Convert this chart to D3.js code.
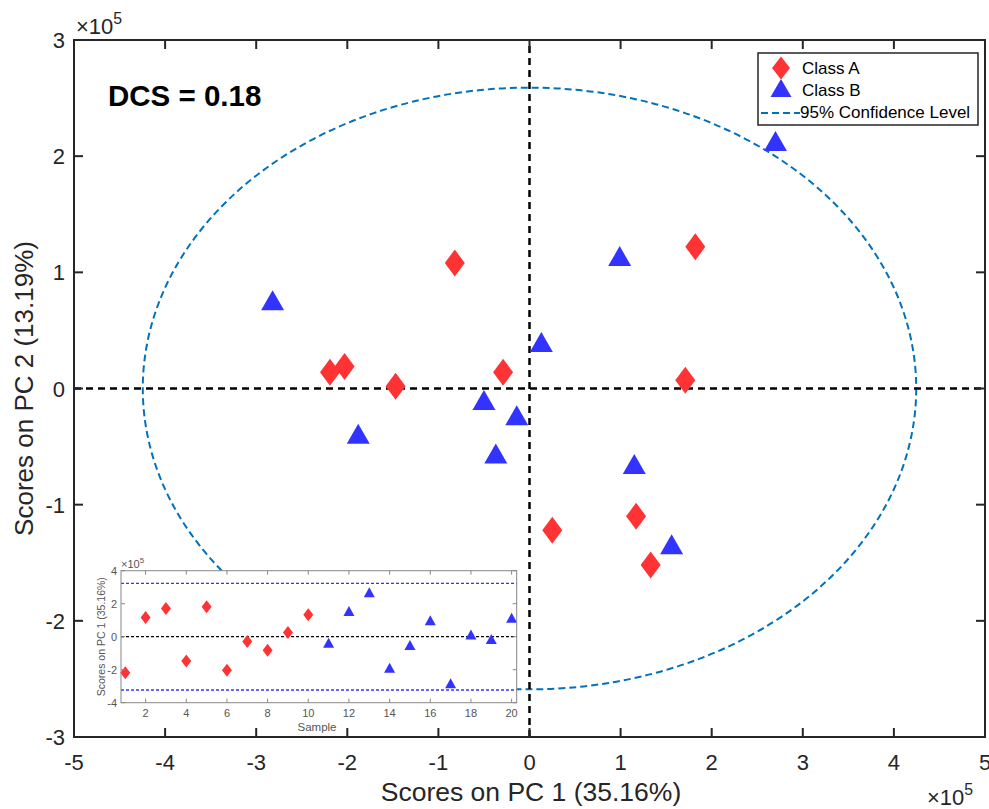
<!DOCTYPE html>
<html>
<head>
<meta charset="utf-8">
<script src="https://cdn.jsdelivr.net/npm/d3@7"></script>
<style>
  body { margin: 0; background: #fff; }
  text { font-family: "Liberation Sans", Arial, sans-serif; }
</style>
</head>
<body>
<div id="chart"></div>
<script>
// ---------------- data (scores in units of 1e5) ----------------
const classA_pc1 = [-2.19, 1.17, 1.71, -1.47, 1.82, -2.03, -0.29, -0.82, 0.25, 1.33];
const classA_pc2 = [0.14, -1.10, 0.07, 0.02, 1.22, 0.19, 0.14, 1.08, -1.22, -1.52];
const classB_pc1 = [-0.37, 1.56, 2.70, -1.88, -0.50, 0.99, -2.82, 0.13, -0.14, 1.15];
const classB_pc2 = [-0.56, -1.34, 2.13, -0.39, -0.10, 1.14, 0.76, 0.40, -0.23, -0.65];
const samplesA = [1, 2, 3, 4, 5, 6, 7, 8, 9, 10];
const samplesB = [11, 12, 13, 14, 15, 16, 17, 18, 19, 20];

const ellipseRadii = [4.245, 2.59];   // 95% confidence ellipse half-axes
const pc1Limit = 3.23;                // inset 95% limit on PC1
const xTicks = [-5, -4, -3, -2, -1, 0, 1, 2, 3, 4, 5];
const yTicks = [-3, -2, -1, 0, 1, 2, 3];
const insetXTicks = [2, 4, 6, 8, 10, 12, 14, 16, 18, 20];
const insetYTicks = [-4, -2, 0, 2, 4];
const legendLabels = ["Class A", "Class B", "95% Confidence Level"];
const dcsLabel = "DCS = 0.18";

const red = "#ff3333", blue = "#3333ff", ciBlue = "#0072bd", axisCol = "#262626";

const pointsA = samplesA.map((s, i) => ({s, x: classA_pc1[i], y: classA_pc2[i]}));
const pointsB = samplesB.map((s, i) => ({s, x: classB_pc1[i], y: classB_pc2[i]}));

const svg = d3.select("#chart").append("svg")
    .attr("width", 989).attr("height", 809);

// ---------------- main axes ----------------
const xScale = d3.scaleLinear().domain([-5, 5]).range([74, 985]);
const yScale = d3.scaleLinear().domain([-3, 3]).range([737, 40]);

// diamond / triangle path builders
function diamond(w, h) { return `M0,${-h/2}L${w/2},0L0,${h/2}L${-w/2},0Z`; }
function triangle(w, h) { return `M0,${-h/2}L${w/2},${h/2}L${-w/2},${h/2}Z`; }

// confidence ellipse
svg.append("ellipse")
    .attr("cx", xScale(0)).attr("cy", yScale(0))
    .attr("rx", xScale(ellipseRadii[0]) - xScale(0))
    .attr("ry", yScale(0) - yScale(ellipseRadii[1]))
    .attr("fill", "none")
    .attr("stroke", ciBlue)
    .attr("stroke-width", 2)
    .attr("stroke-dasharray", "7,4");

// zero lines
svg.append("line")
    .attr("x1", xScale(-5)).attr("x2", xScale(5))
    .attr("y1", yScale(0)).attr("y2", yScale(0))
    .attr("stroke", "#000").attr("stroke-width", 2.5).attr("stroke-dasharray", "7,5");
svg.append("line")
    .attr("x1", xScale(0)).attr("x2", xScale(0))
    .attr("y1", yScale(-3)).attr("y2", yScale(3))
    .attr("stroke", "#000").attr("stroke-width", 2.5).attr("stroke-dasharray", "7,5");

// box + inward ticks on all four sides
const tickLen = 9;
const axes = svg.append("g").attr("stroke", axisCol).attr("stroke-width", 2);
axes.append("rect")
    .attr("x", xScale(-5)).attr("y", yScale(3))
    .attr("width", xScale(5) - xScale(-5)).attr("height", yScale(-3) - yScale(3))
    .attr("fill", "none");
xTicks.forEach(t => {
  axes.append("line").attr("x1", xScale(t)).attr("x2", xScale(t))
      .attr("y1", yScale(-3)).attr("y2", yScale(-3) - tickLen);
  axes.append("line").attr("x1", xScale(t)).attr("x2", xScale(t))
      .attr("y1", yScale(3)).attr("y2", yScale(3) + tickLen);
});
yTicks.forEach(t => {
  axes.append("line").attr("y1", yScale(t)).attr("y2", yScale(t))
      .attr("x1", xScale(-5)).attr("x2", xScale(-5) + tickLen);
  axes.append("line").attr("y1", yScale(t)).attr("y2", yScale(t))
      .attr("x1", xScale(5)).attr("x2", xScale(5) - tickLen);
});

// tick labels
svg.append("g").selectAll("text").data(xTicks).join("text")
    .attr("x", d => xScale(d)).attr("y", 770)
    .attr("text-anchor", "middle").attr("font-size", 22).attr("fill", axisCol)
    .text(d => d);
svg.append("g").selectAll("text").data(yTicks).join("text")
    .attr("x", 65).attr("y", d => yScale(d) + 8)
    .attr("text-anchor", "end").attr("font-size", 22).attr("fill", axisCol)
    .text(d => d);

// exponent labels
function exponent(x, y, size) {
  const t = svg.append("text").attr("x", x).attr("y", y)
      .attr("font-size", size).attr("fill", axisCol);
  t.append("tspan").text("\u00d710");
  t.append("tspan").attr("dy", -size * 0.45).attr("font-size", size * 0.72).text("5");
}
exponent(76, 34, 22);
exponent(927, 805, 22);

// axis titles
svg.append("text")
    .attr("x", 531).attr("y", 801)
    .attr("text-anchor", "middle").attr("font-size", 26.5).attr("fill", axisCol)
    .text("Scores on PC 1 (35.16%)");
svg.append("text")
    .attr("transform", `translate(33,${yScale(0)}) rotate(-90)`)
    .attr("text-anchor", "middle").attr("font-size", 26).attr("fill", axisCol)
    .text("Scores on PC 2 (13.19%)");

// scatter points
svg.append("g").selectAll("path").data(pointsA).join("path")
    .attr("transform", d => `translate(${xScale(d.x)},${yScale(d.y)})`)
    .attr("d", diamond(20, 27)).attr("fill", red);
svg.append("g").selectAll("path").data(pointsB).join("path")
    .attr("transform", d => `translate(${xScale(d.x)},${yScale(d.y)})`)
    .attr("d", triangle(23, 20)).attr("fill", blue);

// DCS annotation
svg.append("text")
    .attr("x", 108).attr("y", 106)
    .attr("font-size", 29.5).attr("font-weight", "bold").attr("fill", "#000")
    .text(dcsLabel);

// ---------------- legend ----------------
const legend = svg.append("g");
legend.append("rect")
    .attr("x", 758).attr("y", 53).attr("width", 220).attr("height", 72)
    .attr("fill", "#fff").attr("stroke", axisCol).attr("stroke-width", 1.5);
legend.append("path").attr("transform", "translate(781,68)")
    .attr("d", diamond(18, 23)).attr("fill", red);
legend.append("path").attr("transform", "translate(781,88)")
    .attr("d", triangle(21, 18)).attr("fill", blue);
legend.append("line")
    .attr("x1", 761).attr("x2", 800).attr("y1", 113).attr("y2", 113)
    .attr("stroke", ciBlue).attr("stroke-width", 2).attr("stroke-dasharray", "7,4");
legend.selectAll("text.lbl").data(legendLabels).join("text")
    .attr("class", "lbl")
    .attr("x", (d, i) => i === 2 ? 800 : 802)
    .attr("y", (d, i) => [74, 96, 118][i])
    .attr("font-size", 17).attr("fill", "#000")
    .text(d => d);

// ---------------- inset: PC1 scores by sample ----------------
const inX = d3.scaleLinear().domain([0.79, 20.25]).range([121, 516.7]);
const inY = d3.scaleLinear().domain([-4, 4]).range([702.7, 570.7]);
const inset = svg.append("g");
const insetCol = "#555";

inset.append("rect")
    .attr("x", inX.range()[0]).attr("y", inY.range()[1])
    .attr("width", inX.range()[1] - inX.range()[0])
    .attr("height", inY.range()[0] - inY.range()[1])
    .attr("fill", "#fff");

[pc1Limit, -pc1Limit].forEach(v => {
  inset.append("line")
      .attr("x1", inX.range()[0]).attr("x2", inX.range()[1])
      .attr("y1", inY(v)).attr("y2", inY(v))
      .attr("stroke", blue).attr("stroke-width", 1.3).attr("stroke-dasharray", "3,2");
});
inset.append("line")
    .attr("x1", inX.range()[0]).attr("x2", inX.range()[1])
    .attr("y1", inY(0)).attr("y2", inY(0))
    .attr("stroke", "#000").attr("stroke-width", 1.3).attr("stroke-dasharray", "3,2");

inset.append("g").selectAll("path").data(pointsA).join("path")
    .attr("transform", d => `translate(${inX(d.s)},${inY(d.x)})`)
    .attr("d", diamond(10, 13)).attr("fill", red);
inset.append("g").selectAll("path").data(pointsB).join("path")
    .attr("transform", d => `translate(${inX(d.s)},${inY(d.x)})`)
    .attr("d", triangle(11, 10)).attr("fill", blue);

const inAxes = inset.append("g").attr("stroke", "#888").attr("stroke-width", 1);
inAxes.append("rect")
    .attr("x", inX.range()[0]).attr("y", inY.range()[1])
    .attr("width", inX.range()[1] - inX.range()[0])
    .attr("height", inY.range()[0] - inY.range()[1])
    .attr("fill", "none");
insetXTicks.forEach(t => {
  inAxes.append("line").attr("x1", inX(t)).attr("x2", inX(t))
      .attr("y1", inY(-4)).attr("y2", inY(-4) - 4);
  inAxes.append("line").attr("x1", inX(t)).attr("x2", inX(t))
      .attr("y1", inY(4)).attr("y2", inY(4) + 4);
});
insetYTicks.forEach(t => {
  inAxes.append("line").attr("y1", inY(t)).attr("y2", inY(t))
      .attr("x1", inX.range()[0]).attr("x2", inX.range()[0] + 4);
  inAxes.append("line").attr("y1", inY(t)).attr("y2", inY(t))
      .attr("x1", inX.range()[1]).attr("x2", inX.range()[1] - 4);
});

inset.append("g").selectAll("text").data(insetXTicks).join("text")
    .attr("x", d => inX(d)).attr("y", 717)
    .attr("text-anchor", "middle").attr("font-size", 11).attr("fill", insetCol)
    .text(d => d);
inset.append("g").selectAll("text").data(insetYTicks).join("text")
    .attr("x", 117).attr("y", d => inY(d) + 4)
    .attr("text-anchor", "end").attr("font-size", 11).attr("fill", insetCol)
    .text(d => d);
inset.append("text")
    .attr("x", 317).attr("y", 731)
    .attr("text-anchor", "middle").attr("font-size", 11.5).attr("fill", insetCol)
    .text("Sample");
inset.append("text")
    .attr("transform", `translate(105,${inY(0)}) rotate(-90)`)
    .attr("text-anchor", "middle").attr("font-size", 10.5).attr("fill", insetCol)
    .text("Scores on PC 1 (35.16%)");
const inExp = inset.append("text").attr("x", 121).attr("y", 568)
    .attr("font-size", 11).attr("fill", insetCol);
inExp.append("tspan").text("\u00d710");
inExp.append("tspan").attr("dy", -5).attr("font-size", 8).text("5");
</script>
</body>
</html>
